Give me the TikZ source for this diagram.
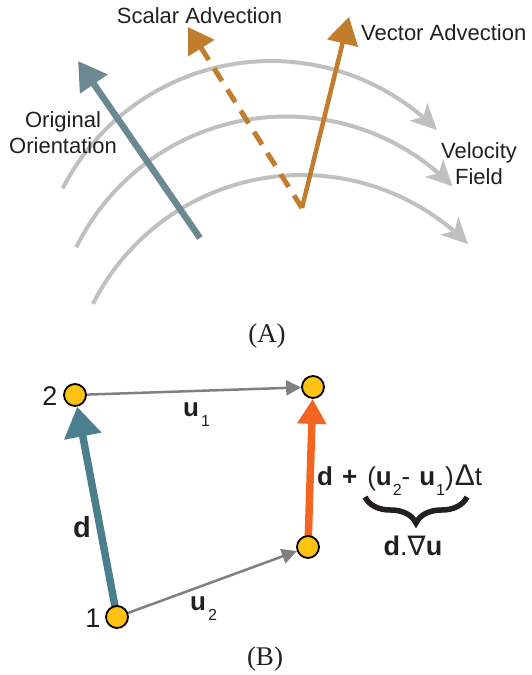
\documentclass[tikz,border=0pt]{standalone}
\usepackage{fontspec}
\setmainfont{Liberation Sans}
\newfontfamily\capfont{Liberation Serif}
\newfontfamily\nablafont{DejaVu Sans}
\usetikzlibrary{arrows.meta,decorations.pathreplacing}
\pgfdeclarelayer{bg}
\pgfsetlayers{bg,main}
\definecolor{fieldgray}{RGB}{192,192,192}
\definecolor{origteal}{RGB}{108,137,146}
\definecolor{advorange}{RGB}{193,125,44}
\definecolor{dteal}{RGB}{74,128,141}
\definecolor{resorange}{RGB}{242,101,34}
\definecolor{edgegray}{RGB}{128,128,128}
\definecolor{ptyellow}{RGB}{254,194,16}
\definecolor{txt}{RGB}{35,31,32}
\newcommand{\subsc}[1]{\raisebox{-10pt}{\fontsize{16}{16}\selectfont #1}}
\begin{document}
\begin{tikzpicture}[x=1pt,y=-1pt,
  fieldline/.style={draw=fieldgray, line width=4pt, -{Stealth[length=26pt,width=25pt,inset=7pt]}},
  labA/.style={font=\fontsize{22}{26}\selectfont, inner sep=0pt, text=txt, align=center},
  labB/.style={font=\fontsize{26}{30}\selectfont, inner sep=0pt, text=txt},
  caplab/.style={font=\capfont\fontsize{27}{30}\selectfont, inner sep=0pt, text=txt},
  origarrow/.style={draw=origteal, line width=6.5pt, -{Triangle[length=28pt,width=32pt]}},
  advarrow/.style={draw=advorange, line width=4.5pt, -{Triangle[length=27pt,width=31pt]}},
  scalararrow/.style={draw=advorange, line width=5pt, dash pattern=on 15pt off 10pt, -{Triangle[length=25pt,width=30pt]}},
  ptdot/.style={circle, draw=black, line width=1.8pt, fill=ptyellow, minimum size=22pt, inner sep=0pt},
  dteala/.style={draw=dteal, line width=7.5pt, -{Triangle[length=30pt,width=36pt]}},
  resarrow/.style={draw=resorange, line width=7.5pt, -{Triangle[length=25pt,width=28pt]}},
  grayarrow/.style={draw=edgegray, line width=2.5pt, -{Triangle[length=15pt,width=15pt]}},
  bracestyle/.style={draw=txt, line width=5.5pt, decorate, decoration={brace, amplitude=26pt}}
]
\useasboundingbox (0,0) rectangle (532,675);

% ---------- Part A ----------
\draw[fieldline] plot[domain=152.9:44.8, samples=60, smooth] ({271+234*cos(\x)},{295-234*sin(\x)});
\draw[fieldline] plot[domain=153.9:44.5, samples=60, smooth] ({286+233.5*cos(\x)},{350-233.5*sin(\x)});
\draw[fieldline] plot[domain=153.3:44.8, samples=60, smooth] ({302+234*cos(\x)},{409-234*sin(\x)});

\coordinate (o0) at (200,238);
\coordinate (o1) at (78,61);
\coordinate (p0) at (302,208);
\coordinate (s1) at (188,27);
\coordinate (v1) at (349,17);

\draw[origarrow] (o0) -- (o1);
\draw[scalararrow] (p0) -- (s1);
\draw[advarrow] (p0) -- (v1);

\node[labA, anchor=base] (scal) at (199.5,23) {Scalar Advection};
\node[labA, anchor=base west] (vect) at (361,40) {Vector Advection};
\node[labA] (orig) at (63,133) {Original\\Orientation};
\node[labA] (velo) at (479,164) {Velocity\\Field};
\node[caplab, anchor=base] (capA) at (267,342) {(A)};

% ---------- Part B ----------
\node[ptdot] (n1) at (117,617) {};
\node[ptdot] (n2) at (75,395) {};
\node[ptdot] (n3) at (313,387) {};
\node[ptdot] (n4) at (308,547) {};

\begin{pgfonlayer}{bg}
\draw[dteala] (n1.center) -- (n2);
\draw[grayarrow] (n2) -- (n3);
\draw[grayarrow] (n1) -- (n4);
\draw[resarrow] (n4.center) -- (n3);
\end{pgfonlayer}

\node[labB, font=\fontsize{27}{30}\selectfont, anchor=base] (l2) at (50,405) {2};
\node[labB, font=\fontsize{27}{30}\selectfont, anchor=base] (l1) at (93,627) {1};
\node[labB, anchor=base west] (lu1) at (183,416) {\textbf{u}\kern2pt\subsc{1}};
\node[labB, anchor=base west] (lu2) at (190,610) {\textbf{u}\kern2pt\subsc{2}};
\node[labB, font=\bfseries\fontsize{29}{30}\selectfont, anchor=base west] (ld) at (73,537) {d};
\node[labB, anchor=base west] (form) at (317,485) {\textbf{d}\hspace{9pt}\textbf{+}\hspace{10pt}(\textbf{u}\kern1pt\subsc{2}-\hspace{9pt}\textbf{u}\kern1pt\subsc{1})\kern1pt{\fontsize{30}{30}\selectfont Δ}t};
\draw[bracestyle] (467,497) -- (365,497);
\node[labB, font=\fontsize{27}{30}\selectfont, anchor=base] (grad) at (413,555) {\textbf{d}.{\nablafont ∇}\textbf{u}};
\node[caplab, anchor=base] (capB) at (265,665) {(B)};
\end{tikzpicture}
\end{document}
